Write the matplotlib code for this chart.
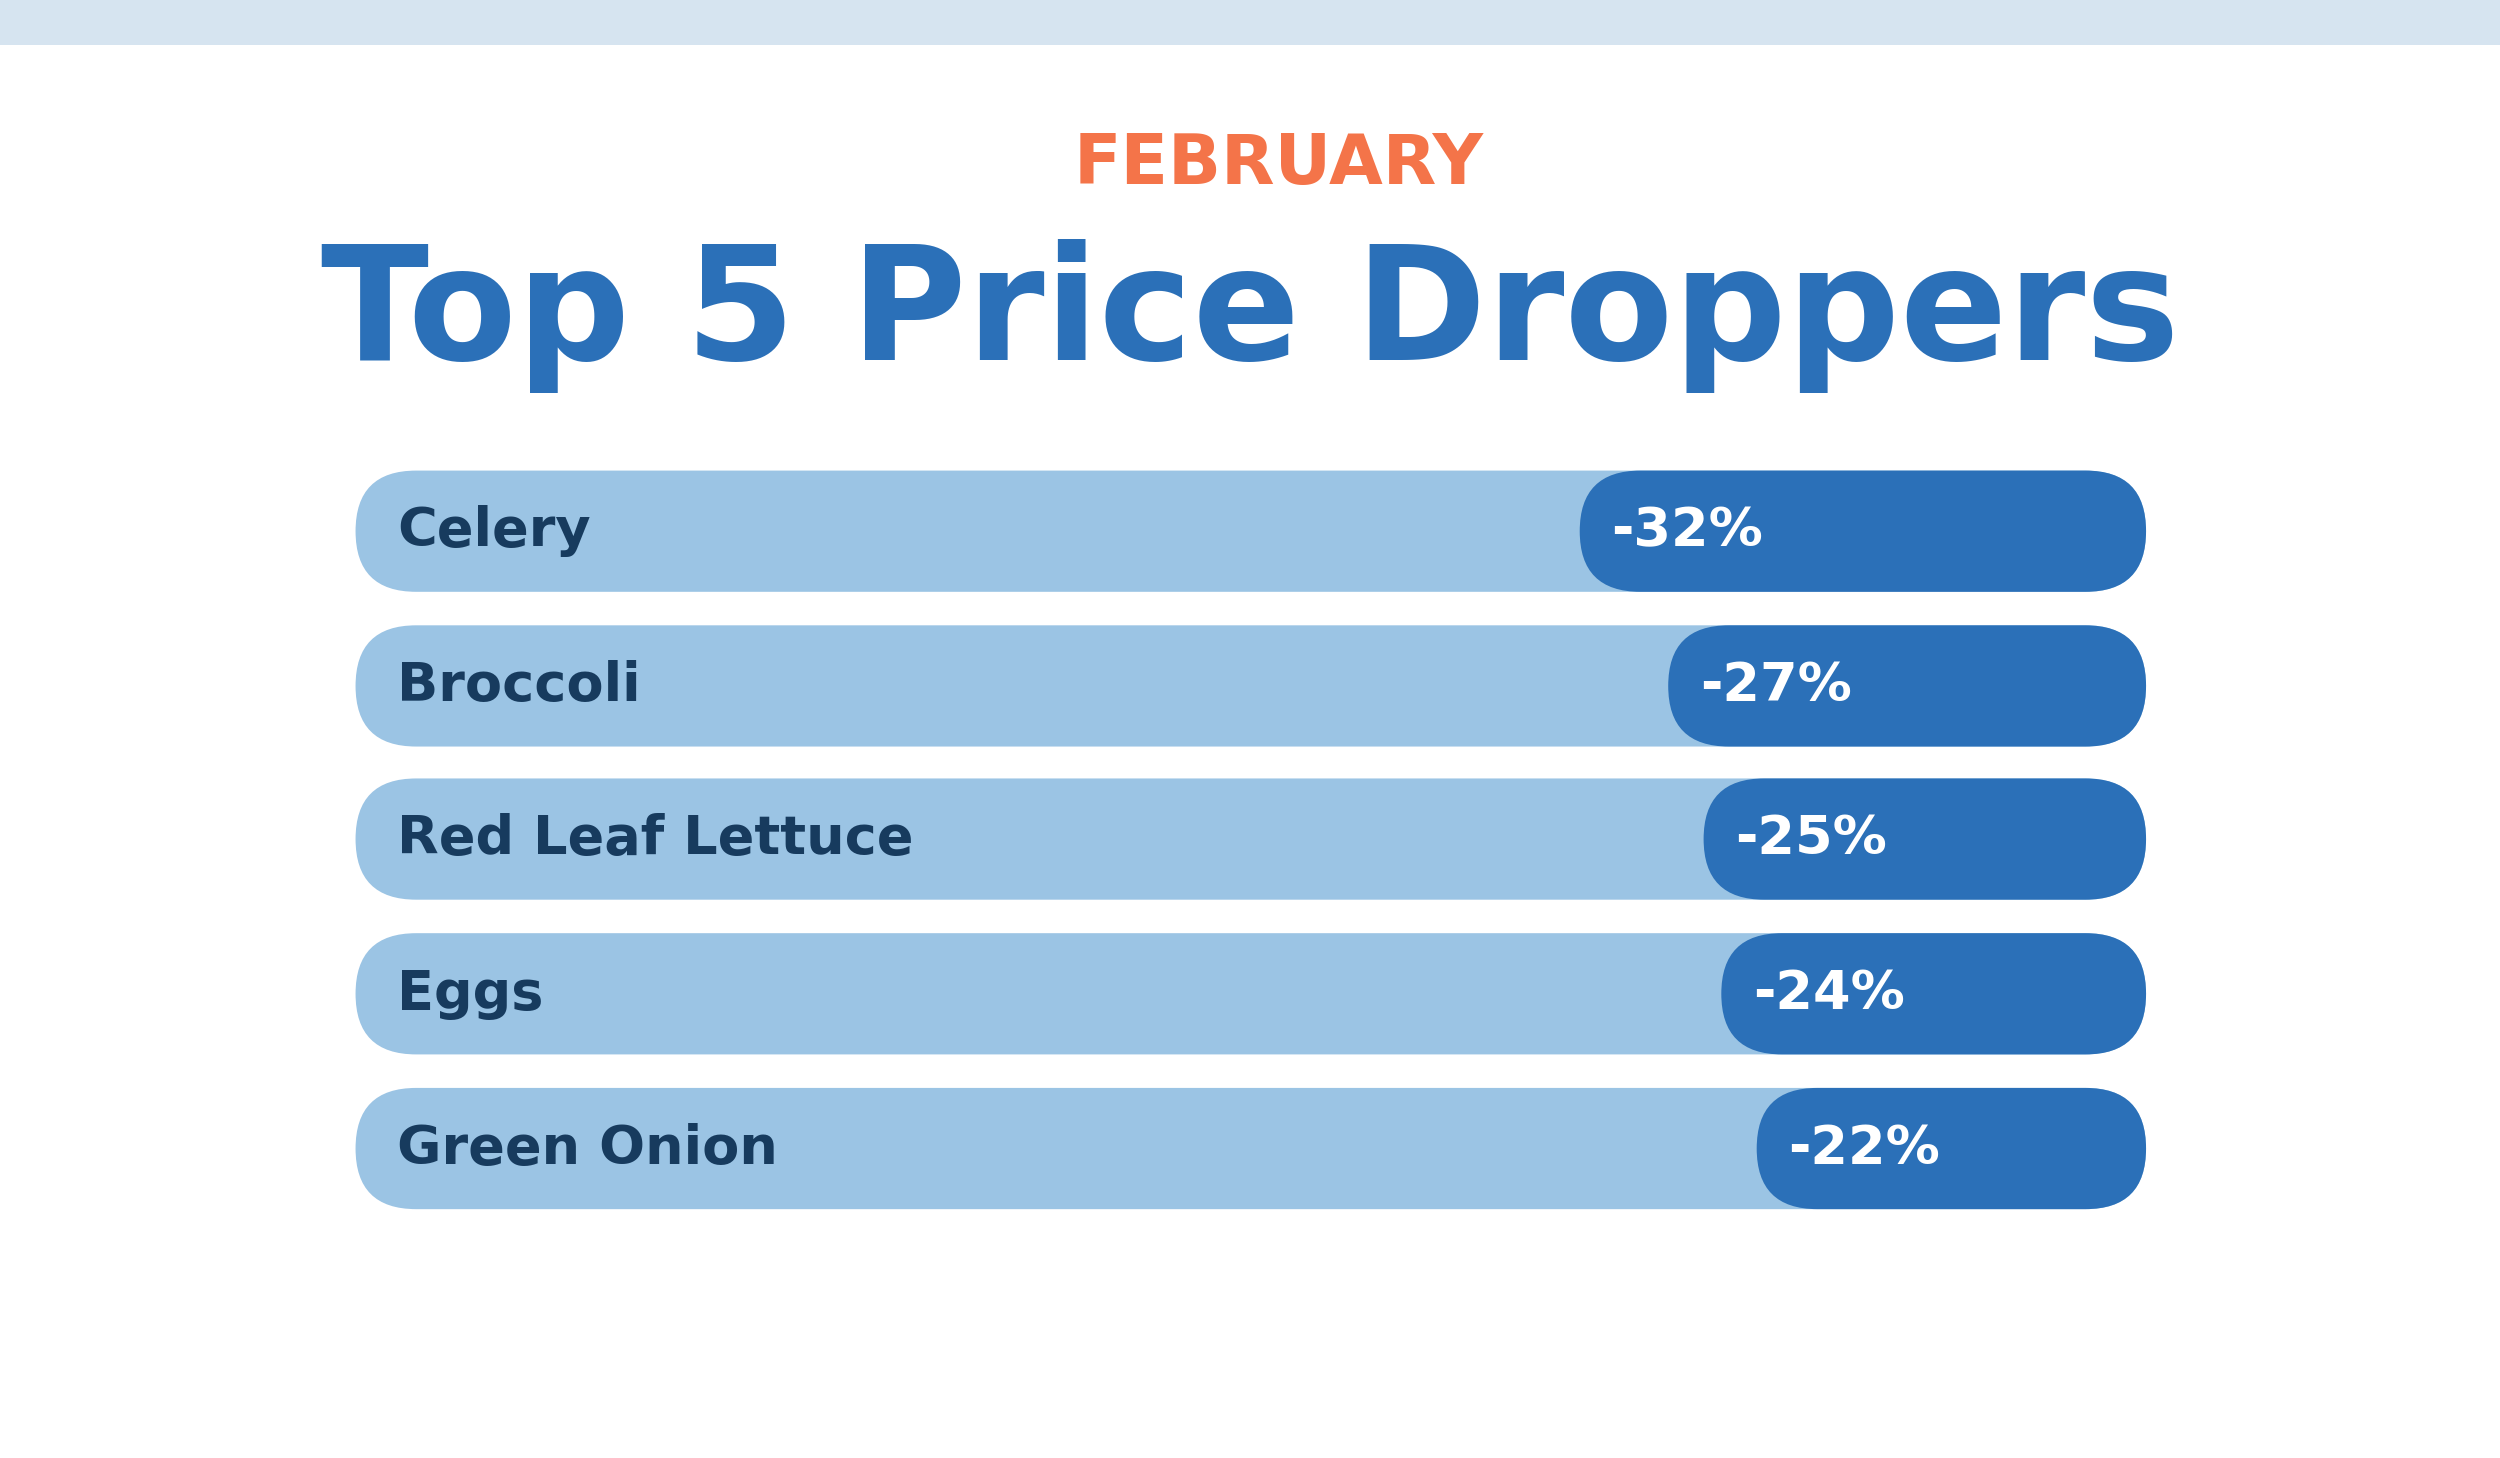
import matplotlib
matplotlib.use("Agg")
import matplotlib.pyplot as plt
from matplotlib.patches import FancyBboxPatch, Rectangle

categories = ["Celery", "Broccoli", "Red Leaf Lettuce", "Eggs", "Green Onion"]
values = [32, 27, 25, 24, 22]
value_labels = ["-32%", "-27%", "-25%", "-24%", "-22%"]

W, H = 1568, 914
fig = plt.figure(figsize=(25, 14.58), dpi=100)
ax = fig.add_axes([0, 0, 1, 1])
ax.set_xlim(0, W); ax.set_ylim(H, 0); ax.axis("off")

ax.add_patch(Rectangle((0, 0), W, 28, color="#d6e4f0", lw=0))
ax.text(W/2 + 18, 103, "FEBRUARY", ha="center", va="center", fontsize=50,
        fontweight="bold", color="#f47449", family="DejaVu Sans")
ax.text(W/2 + 0, 198, "Top 5 Price Droppers", ha="center", va="center", fontsize=114,
        fontweight="bold", color="#2b70b8", family="DejaVu Sans")

left, right, h = 223, 1346, 76
ppu = 11.1
centers = [333, 430, 526, 623, 720]
r = h / 2
for cat, v, lab, cy in zip(categories, values, value_labels, centers):
    ax.add_patch(FancyBboxPatch((left + r, cy - h/2 + r), right - left - 2*r, h - 2*r,
                                boxstyle=f"round,pad={r}", fc="#9bc4e4", ec="none"))
    xs = right - v * ppu
    ax.add_patch(FancyBboxPatch((xs + r, cy - h/2 + r), right - xs - 2*r, h - 2*r,
                                boxstyle=f"round,pad={r}", fc="#2b70b8", ec="none"))
    ax.text(left + 26, cy, cat, ha="left", va="center", fontsize=39,
            fontweight="bold", color="#173b5e", family="DejaVu Sans")
    ax.text(xs + 20, cy, lab, ha="left", va="center", fontsize=39,
            fontweight="bold", color="white", family="DejaVu Sans")

fig.savefig("out.png", dpi=100, facecolor="white")
